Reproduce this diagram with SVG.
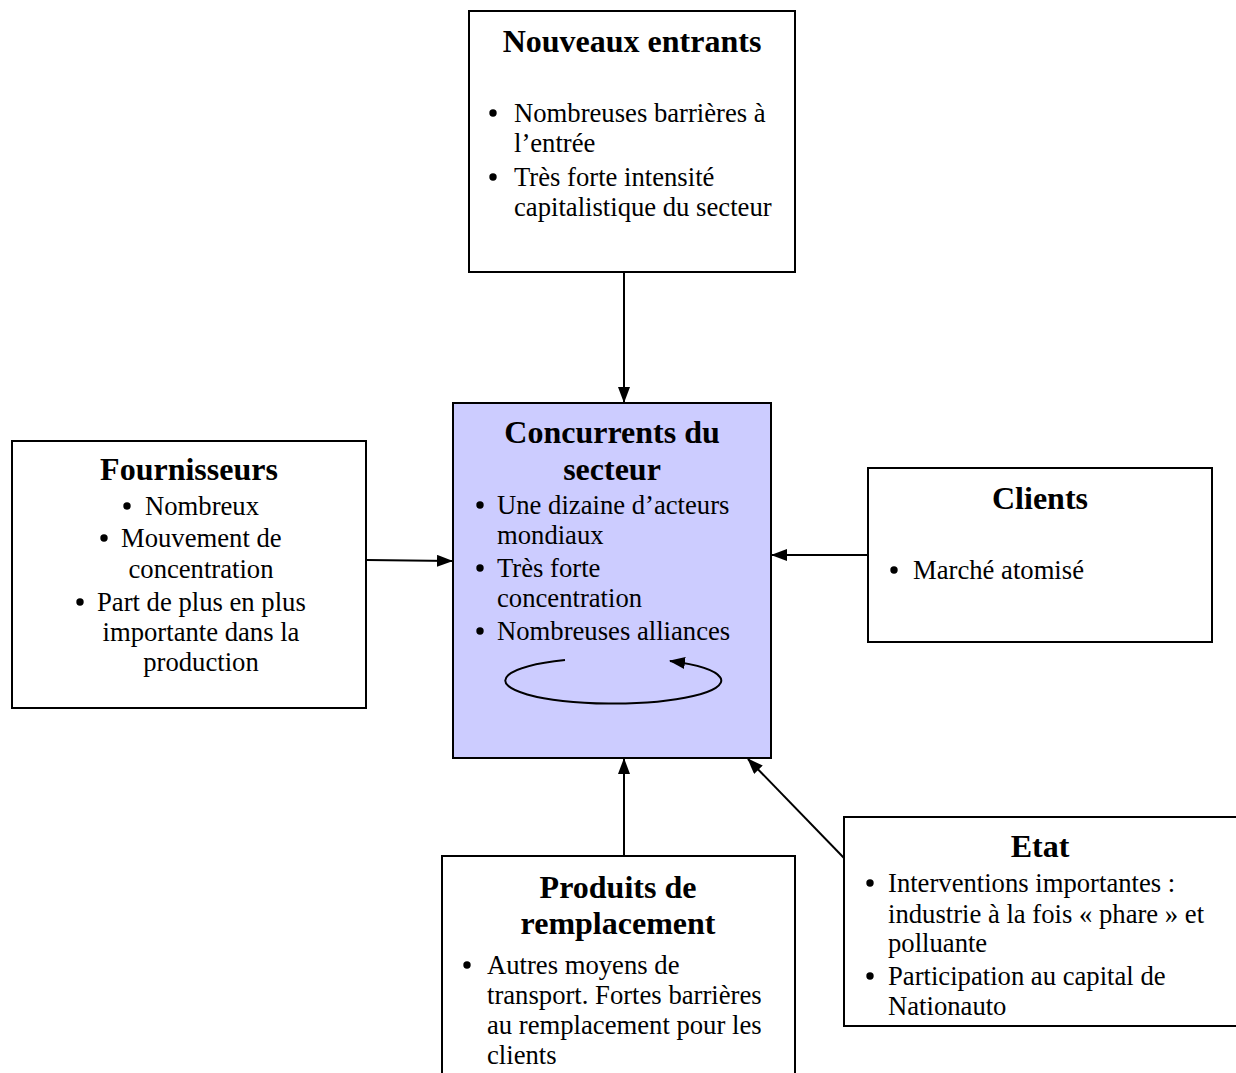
<svg xmlns="http://www.w3.org/2000/svg" width="1236" height="1073" viewBox="0 0 1236 1073">
<style>
.box{fill:#fff;stroke:#000;stroke-width:2}
.center{fill:#ccccff;stroke:#000;stroke-width:2}
.t{font-family:"Liberation Serif","Times New Roman",serif;font-size:32px;font-weight:bold;fill:#000;text-anchor:middle}
.b{font-family:"Liberation Serif","Times New Roman",serif;font-size:26.67px;fill:#000}
.m{text-anchor:middle}
.c{fill:none;stroke:#000;stroke-width:2}
.dot{fill:#000}
</style>
<defs>
<marker id="ah" markerUnits="userSpaceOnUse" markerWidth="16" markerHeight="12" refX="15" refY="6" orient="auto">
<path d="M0,0 L16,6 L0,12 Z" fill="#000"/>
</marker>
</defs>
<rect width="1236" height="1073" fill="#fff"/>

<g id="nouveaux-entrants">
<rect class="box" x="469" y="11" width="326" height="261"/>
<text class="t" x="632" y="52">Nouveaux entrants</text>
<circle class="dot" cx="493" cy="113" r="3.7"/>
<text class="b" x="514" y="122">Nombreuses barrières à</text>
<text class="b" x="514" y="152">l’entrée</text>
<circle class="dot" cx="493" cy="177" r="3.7"/>
<text class="b" x="514" y="186">Très forte intensité</text>
<text class="b" x="514" y="216">capitalistique du secteur</text>
</g>

<g id="concurrents">
<rect class="center" x="453" y="403" width="318" height="355"/>
<text class="t" x="612" y="443">Concurrents du</text>
<text class="t" x="612" y="480">secteur</text>
<circle class="dot" cx="480" cy="505" r="3.7"/>
<text class="b" x="497" y="514">Une dizaine d’acteurs</text>
<text class="b" x="497" y="544">mondiaux</text>
<circle class="dot" cx="480" cy="568" r="3.7"/>
<text class="b" x="497" y="577">Très forte</text>
<text class="b" x="497" y="607">concentration</text>
<circle class="dot" cx="480" cy="631" r="3.7"/>
<text class="b" x="497" y="640">Nombreuses alliances</text>
</g>

<g id="fournisseurs">
<rect class="box" x="12" y="441" width="354" height="267"/>
<text class="t" x="189" y="480">Fournisseurs</text>
<circle class="dot" cx="127" cy="506" r="3.7"/>
<text class="b" x="145" y="515">Nombreux</text>
<circle class="dot" cx="104" cy="538" r="3.7"/>
<text class="b" x="121" y="547">Mouvement de</text>
<text class="b m" x="201" y="578">concentration</text>
<circle class="dot" cx="80" cy="602" r="3.7"/>
<text class="b" x="97" y="611">Part de plus en plus</text>
<text class="b m" x="201" y="641">importante dans la</text>
<text class="b m" x="201" y="671">production</text>
</g>

<g id="clients">
<rect class="box" x="868" y="468" width="344" height="174"/>
<text class="t" x="1040" y="509">Clients</text>
<circle class="dot" cx="894" cy="570" r="3.7"/>
<text class="b" x="913" y="579">Marché atomisé</text>
</g>

<g id="etat">
<rect class="box" x="844" y="817" width="400" height="209"/>
<text class="t" x="1040" y="857">Etat</text>
<circle class="dot" cx="870" cy="883" r="3.7"/>
<text class="b" x="888" y="892">Interventions importantes :</text>
<text class="b" x="888" y="923">industrie à la fois « phare » et</text>
<text class="b" x="888" y="952">polluante</text>
<circle class="dot" cx="870" cy="976" r="3.7"/>
<text class="b" x="888" y="985">Participation au capital de</text>
<text class="b" x="888" y="1015">Nationauto</text>
</g>

<g id="produits">
<rect class="box" x="442" y="856" width="353" height="240"/>
<text class="t" x="618" y="898">Produits de</text>
<text class="t" x="618" y="934">remplacement</text>
<circle class="dot" cx="467" cy="965" r="3.7"/>
<text class="b" x="487" y="974">Autres moyens de</text>
<text class="b" x="487" y="1004">transport. Fortes barrières</text>
<text class="b" x="487" y="1034">au remplacement pour les</text>
<text class="b" x="487" y="1064">clients</text>
</g>

<g id="connectors">
<line class="c" x1="624" y1="272" x2="624" y2="402" marker-end="url(#ah)"/>
<line class="c" x1="367" y1="560" x2="452" y2="561" marker-end="url(#ah)"/>
<line class="c" x1="868" y1="555" x2="772" y2="555" marker-end="url(#ah)"/>
<line class="c" x1="624" y1="856" x2="624" y2="759" marker-end="url(#ah)"/>
<line class="c" x1="844" y1="858" x2="748" y2="759" marker-end="url(#ah)"/>
<path class="c" d="M565 660 A108 23 0 1 0 670 661" marker-end="url(#ah)"/>
</g>
</svg>
